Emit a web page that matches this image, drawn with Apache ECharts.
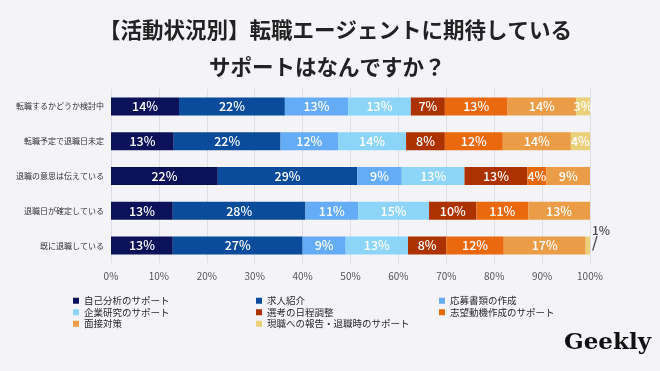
<!DOCTYPE html>
<html><head><meta charset="utf-8">
<script src="https://cdn.jsdelivr.net/npm/echarts@6/dist/echarts.min.js"></script>
<style>html,body{margin:0;padding:0;background:#f3f3f8;}#c{width:660px;height:371px;}</style>
</head><body><div id="c"></div>
<script>
const categories = ['転職するかどうか検討中','転職予定で退職日未定','退職の意思は伝えている','退職日が確定している','既に退職している'];
const seriesNames = ['自己分析のサポート','求人紹介','応募書類の作成','企業研究のサポート','選考の日程調整','志望動機作成のサポート','面接対策','現職への報告・退職時のサポート'];
const s1 = [14.2, 13.1, 22.3, 12.9, 12.9];
const s2 = [22.1, 22.3, 29.1, 27.7, 27.1];
const s3 = [13.2, 12.0, 9.3, 11.0, 9.0];
const s4 = [13.1, 14.2, 13.1, 14.8, 13.0];
const s5 = [7.1, 8.1, 13.1, 9.9, 8.0];
const s6 = [13.1, 12.1, 4.0, 10.8, 12.0];
const s7 = [14.3, 14.2, 9.1, 12.9, 17.1];
const s8 = [2.9, 4.0, 0, 0, 0.9];
const xTicks = [0,10,20,30,40,50,60,70,80,90,100];
const colors = ['#0b1259','#0a4b9b','#64acf5','#8dd5f8','#ac3200','#ea690f','#eb9c46','#ead079'];
const values = [s1,s2,s3,s4,s5,s6,s7,s8];
const FONT = '"Noto Sans CJK JP", "Noto Sans", sans-serif';

const series = values.map((vals, si) => ({
  name: seriesNames[si],
  type: 'bar',
  stack: 'total',
  barWidth: 18,
  itemStyle: {color: colors[si]},
  data: vals.map((v, di) => {
    if (si === 7 && di === 4) {
      return {value: v, label: {
        position: 'right', distance: 2, offset: [0, -8], align: 'left',
        formatter: p => '{a|' + Math.round(p.value) + '%}\n{b|/}',
        rich: {
          a: {fontSize: 12, color: '#444', fontFamily: FONT, lineHeight: 14},
          b: {fontSize: 17, color: '#555', fontFamily: '"DejaVu Sans", sans-serif', lineHeight: 15, padding: [0,0,0,0]}
        }
      }};
    }
    return v;
  }),
  label: {
    show: true,
    position: 'inside',
    color: '#ffffff',
    fontSize: 12.5,
    fontFamily: FONT,
    fontWeight: 500,
    formatter: p => p.value < 0.5 ? '' : Math.round(p.value) + '%'
  }
}));

const legendCols = [[0,3,6],[1,4,7],[2,5]];
const legendLeft = [73, 256, 439];
const legends = legendCols.map((idx, i) => ({
  data: idx.map(k => seriesNames[k]),
  left: legendLeft[i], top: 295,
  orient: 'vertical',
  padding: 0,
  itemWidth: 6, itemHeight: 6, itemGap: 0,
  icon: 'rect',
  textStyle: {fontSize: 9.5, color: '#2a2a2a', lineHeight: 11.5, fontFamily: FONT}
}));

const chart = echarts.init(document.getElementById('c'));
chart.setOption({
  backgroundColor: '#f3f3f8',
  animation: false,
  title: [{
    text: '【活動状況別】転職エージェントに期待している',
    left: 99, top: 19, padding: 0,
    textStyle: {fontSize: 21.5, fontWeight: 'bold', color: '#222', fontFamily: FONT}
  }, {
    text: 'サポートはなんですか？',
    left: 209, top: 56, padding: 0,
    textStyle: {fontSize: 21.5, fontWeight: 'bold', color: '#222', fontFamily: FONT}
  }],
  grid: {left: 111, right: 70, top: 89, bottom: 108, outerBoundsMode: 'none'},
  xAxis: {
    type: 'value', min: 0, max: 100, interval: 10,
    axisLabel: {formatter: v => xTicks.includes(v) ? v + '%' : '', fontSize: 10, color: '#555', margin: 8, fontFamily: FONT},
    splitLine: {lineStyle: {color: '#dedee6', width: 1}},
    axisLine: {show: false}, axisTick: {show: false}
  },
  yAxis: {
    type: 'category', data: categories, inverse: true,
    axisLine: {show: false}, axisTick: {show: false},
    axisLabel: {fontSize: 8, color: '#333', margin: 7, fontFamily: FONT}
  },
  legend: legends,
  graphic: [{
    type: 'text', right: 9, top: 332,
    style: {text: 'Geekly', font: 'bold 23px "DejaVu Serif", serif', fill: '#111'}
  }],
  series: series
});
</script></body></html>
